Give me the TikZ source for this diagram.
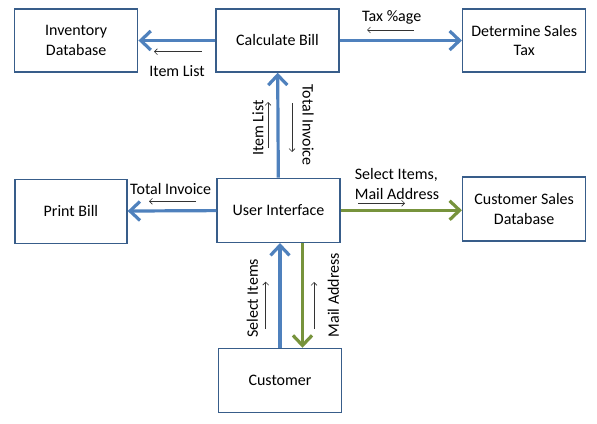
\documentclass[tikz,border=0pt]{standalone}
\usepackage{fontspec}
\setmainfont{Carlito}
\usetikzlibrary{arrows.meta}
\definecolor{boxblue}{RGB}{56,93,138}
\definecolor{flowblue}{RGB}{79,129,189}
\definecolor{flowgreen}{RGB}{119,147,60}

\tikzset{
    proc/.style={draw=boxblue,line width=1.5pt,minimum width=123pt,minimum height=63pt,align=center,inner sep=2pt},
    bigflow/.style={line width=3.2pt,-{Straight Barb[length=10pt,width=19pt]}},
    hint/.style={line width=0.6pt,black!80,-{Straight Barb[length=3pt,width=6pt]}}
}

\begin{document}
\begin{tikzpicture}[x=1pt,y=1pt,font=\fontsize{16}{19.5}\selectfont]
    \useasboundingbox (0,0) rectangle (597,-423);
    \node[proc] (inv) at (76.2,-40.5) {Inventory\\Database};
    \node[proc] (calc) at (277.5,-40.5) {Calculate Bill};
    \node[proc] (tax) at (524.2,-40.5) {Determine Sales\\Tax};
    \node[proc,minimum width=112pt,minimum height=64pt] (print) at (70.9,-211.3) {Print Bill};
    \node[proc,minimum height=64pt] (ui) at (278.5,-210.3) {User Interface};
    \node[proc,minimum height=64pt] (csd) at (524.2,-208.9) {Customer Sales\\Database};
    \node[proc,minimum height=64pt] (cust) at (280,-380.5) {Customer};

    \draw[bigflow,flowblue] (calc) -- (inv);
    \draw[bigflow,flowblue] (calc) -- (tax);
    \draw[bigflow,flowblue] (ui) -- (calc);
    \draw[bigflow,flowblue] (ui) -- (print);
    \draw[bigflow,flowgreen] (ui.east) -- (ui.east -| csd.west);
    \draw[bigflow,flowblue] (cust.north) -- (cust.north |- ui.south);
    \draw[bigflow,flowgreen] ([xshift=24pt]ui.south) -- ([xshift=24pt]ui.south |- cust.north);

    \node (il1) at (177,-70.7) {Item List};
    \draw[hint] (201.7,-51.7) -- (154,-51.7);
    \node (tx) at (391.7,-17.3) {Tax \%age};
    \draw[hint] (414,-30) -- (367,-30);
    \node[rotate=90] (il2) at (258,-128) {Item List};
    \draw[hint] (268,-148) -- (268,-102);
    \node[rotate=-90] (ti1) at (308,-125) {Total Invoice};
    \draw[hint] (292,-103) -- (292,-152);
    \node (ti2) at (170.7,-189.3) {Total Invoice};
    \draw[hint] (196,-201.3) -- (149,-201.3);
    \node[align=left] (sm) at (397,-184) {Select Items,\\Mail Address};
    \draw[hint] (358,-203.3) -- (405,-203.3);
    \node[rotate=90] (si) at (252.3,-298.3) {Select Items};
    \draw[hint] (265.7,-329) -- (265.7,-281.7);
    \node[rotate=90] (ma) at (333.3,-295) {Mail Address};
    \draw[hint] (314,-329) -- (314,-282);
\end{tikzpicture}
\end{document}
